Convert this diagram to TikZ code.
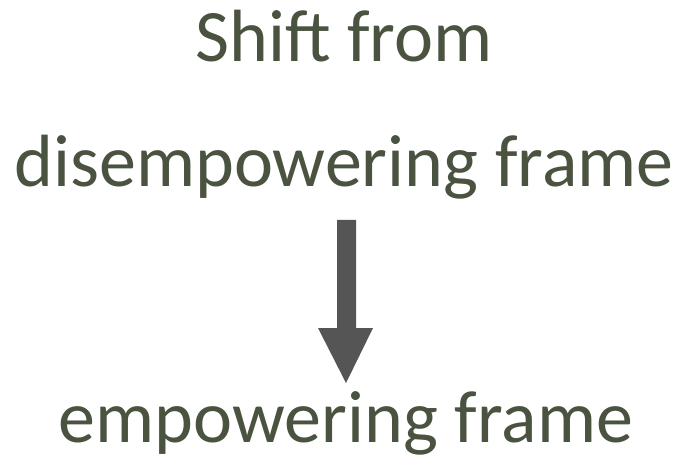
\documentclass[tikz,border=0pt]{standalone}
\usepackage{fontspec}
\setmainfont{Carlito}
\definecolor{textolive}{HTML}{4A5340}
\definecolor{arrowgray}{HTML}{555555}
\begin{document}
\begin{tikzpicture}[x=1pt,y=-1pt,
  caption/.style={anchor=base,inner sep=0pt,text=textolive,font=\fontsize{74}{88}\selectfont}]
\useasboundingbox[fill=white] (0,0) rectangle (682,462);
\node[caption] (top) at (344,62) {Shift from};
\node[caption] (mid) at (344,187) {disempowering frame};
\node[caption] (bot) at (346,442) {empowering frame};
% block arrow from the old frame to the new one
\fill[arrowgray] (337,220) -- (356,220) -- (356,328) -- (373,328) -- (346,383)
  -- (318,328) -- (337,328) -- cycle;
\end{tikzpicture}
\end{document}
